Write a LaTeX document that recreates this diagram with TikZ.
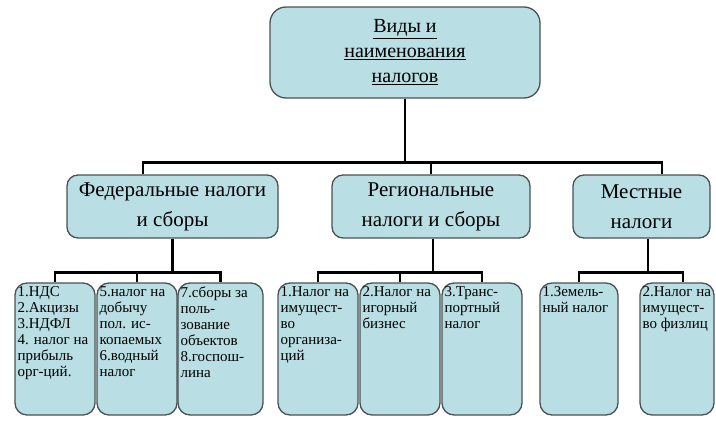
\documentclass[tikz,border=0pt]{standalone}
\usepackage{fontspec}
\setmainfont{Liberation Serif}
\newfontfamily\lserif{Liberation Serif}
\definecolor{boxc}{RGB}{185,222,227}
\definecolor{bordc}{RGB}{75,82,84}
\tikzset{
  box/.style={draw=bordc, line width=1.3pt, fill=boxc, inner sep=0pt},
  topbox/.style={box, rounded corners=16pt, align=center, font=\lserif\fontsize{20}{25}\selectfont},
  midbox/.style={box, rounded corners=11pt, align=center, font=\lserif\fontsize{21}{30}\selectfont},
  leaf/.style={box, rounded corners=12pt, minimum height=132pt},
  leaftext/.style={inner sep=0pt, anchor=north west, align=left, font=\lserif\fontsize{15}{16}\selectfont},
  conn/.style={line width=2.8pt, black},
}
\begin{document}
\begin{tikzpicture}[x=1pt,y=-1pt]
\useasboundingbox[fill=white] (0,0) rectangle (716,423);

% top
\node[topbox, minimum width=270pt, minimum height=91pt] (top) at (405,52.5)
  {\underline{Виды и}\\ \underline{наименования}\\ \underline{налогов}};

% middle level
\node[midbox, minimum width=211pt, minimum height=63pt] (fed) at (172.5,206.5)
  {Федеральные налоги\\ и сборы};
\node[midbox, minimum width=198pt, minimum height=63pt] (reg) at (431,206.5)
  {Региональные\\ налоги и сборы};
\node[midbox, minimum width=137pt, minimum height=63pt] (loc) at (641.5,206.5)
  {Местные\\ налоги};

% leaves
\node[leaf, minimum width=80pt] (f1) at (55,349) {};
\node[leaf, minimum width=80pt] (f2) at (137,349) {};
\node[leaf, minimum width=85pt] (f3) at (220.5,349) {};
\node[leaf, minimum width=80pt] (r1) at (318,349) {};
\node[leaf, minimum width=80pt] (r2) at (400,349) {};
\node[leaf, minimum width=80pt] (r3) at (482,349) {};
\node[leaf, minimum width=78pt] (l1) at (579,349) {};
\node[leaf, minimum width=74pt] (l2) at (677,349) {};

\node[leaftext] (tf1) at ([xshift=3pt,yshift=-4pt]f1.north west)
  {1.НДС\\ 2.Акцизы\\ 3.НДФЛ\\ 4. налог на\\ прибыль\\ орг-ций.};
\node[leaftext] (tf2) at ([xshift=3pt,yshift=-4pt]f2.north west)
  {5.налог на\\ добычу\\ пол. ис-\\ копаемых\\ 6.водный\\ налог};
\node[leaftext] (tf3) at ([xshift=3pt,yshift=-4pt]f3.north west)
  {7.сборы за\\ поль-\\ зование\\ объектов\\ 8.госпош-\\ лина};
\node[leaftext] (tr1) at ([xshift=3pt,yshift=-4pt]r1.north west)
  {1.Налог на\\ имущест-\\ во\\ организа-\\ ций};
\node[leaftext] (tr2) at ([xshift=3pt,yshift=-4pt]r2.north west)
  {2.Налог на\\ игорный\\ бизнес};
\node[leaftext] (tr3) at ([xshift=3pt,yshift=-4pt]r3.north west)
  {3.Транс-\\ портный\\ налог};
\node[leaftext] (tl1) at ([xshift=3pt,yshift=-4pt]l1.north west)
  {1.Земель-\\ ный налог};
\node[leaftext] (tl2) at ([xshift=3pt,yshift=-4pt]l2.north west)
  {2.Налог на\\ имущест-\\ во физлиц};

% connectors: top level
\draw[conn] (top.south) -- ++(0,65);
\draw[conn] ([xshift=-29.5pt]fed.north) -- ++(0,-12) -| ([xshift=20.5pt]loc.north);
\draw[conn] (reg.north) -- ++(0,-12);

% federal
\draw[conn] (fed.south) -- ++(0,35);
\draw[conn] (f1.north) -- ++(0,-10) -| (f3.north);
\draw[conn] (f2.north) -- ++(0,-10);

% regional
\draw[conn] ([xshift=2pt]reg.south) -- ++(0,35);
\draw[conn] (r1.north) -- ++(0,-10) -| (r3.north);
\draw[conn] (r2.north) -- ++(0,-10);

% local
\draw[conn] ([xshift=6.5pt]loc.south) -- ++(0,35);
\draw[conn] (l1.north) -- ++(0,-10) -| ([xshift=6pt]l2.north);
\end{tikzpicture}
\end{document}
